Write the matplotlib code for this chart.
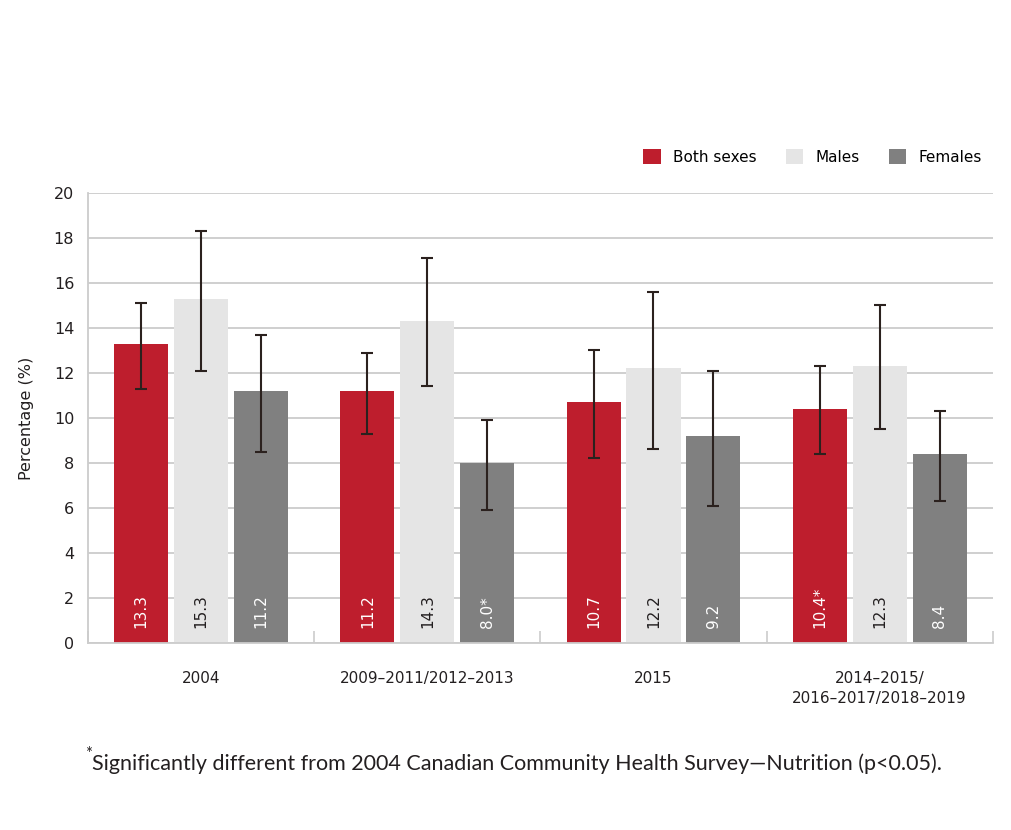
import matplotlib.pyplot as plt
import numpy as np

CATEGORIES = ["2004", "2009–2011/2012–2013", "2015",
              "2014–2015/\n2016–2017/2018–2019"]
SERIES = ["Both sexes", "Males", "Females"]

BOTH = [13.3, 11.2, 10.7, 10.4]
MALES = [15.3, 14.3, 12.2, 12.3]
FEMALES = [11.2, 8.0, 9.2, 8.4]

BOTH_LOW = [11.3, 9.3, 8.2, 8.4]
BOTH_HIGH = [15.1, 12.9, 13.0, 12.3]
MALES_LOW = [12.1, 11.4, 8.6, 9.5]
MALES_HIGH = [18.3, 17.1, 15.6, 15.0]
FEMALES_LOW = [8.5, 5.9, 6.1, 6.3]
FEMALES_HIGH = [13.7, 9.9, 12.1, 10.3]

BOTH_LABELS = ["13.3", "11.2", "10.7", "10.4*"]
MALES_LABELS = ["15.3", "14.3", "12.2", "12.3"]
FEMALES_LABELS = ["11.2", "8.0*", "9.2", "8.4"]

FOOTNOTE = ("Significantly different from 2004 Canadian Community Health "
            "Survey—Nutrition (p<0.05).")


def main():
    plt.rcParams["font.family"] = ["DejaVu Sans"]
    fig = plt.figure(figsize=(10.12, 8.3), dpi=100)
    ax = fig.add_axes([0.087, 0.2253, 0.894, 0.5422])

    colors = ["#BE1E2D", "#E5E5E5", "#808080"]
    text_colors = ["white", "#231F20", "white"]
    values = [BOTH, MALES, FEMALES]
    lows = [BOTH_LOW, MALES_LOW, FEMALES_LOW]
    highs = [BOTH_HIGH, MALES_HIGH, FEMALES_HIGH]
    labels = [BOTH_LABELS, MALES_LABELS, FEMALES_LABELS]

    x = np.arange(len(CATEGORIES))
    step = 0.265
    width = 0.239

    for i, name in enumerate(SERIES):
        pos = x + (i - 1) * step
        vals = np.array(values[i])
        err = [vals - np.array(lows[i]), np.array(highs[i]) - vals]
        ax.bar(pos, vals, width, color=colors[i], label=name, zorder=2)
        ax.errorbar(pos, vals, yerr=err, fmt="none", ecolor="#2B211E",
                    elinewidth=1.5, capsize=4, capthick=1.5, zorder=3)
        #   Rotated value label near the base of each bar.
        for p, lab in zip(pos, labels[i]):
            ax.text(p, 0.65, lab, rotation=90, ha="center", va="bottom",
                    color=text_colors[i], fontsize=11, zorder=4)

    ax.set_xlim(-0.5, 3.5)
    ax.set_ylim(0, 20)
    ax.set_yticks(np.arange(0, 21, 2))
    ax.yaxis.grid(True, color="#CCCCCC", linewidth=1.3, zorder=0)
    ax.set_axisbelow(True)

    ax.set_xticks(x)
    ax.set_xticklabels(CATEGORIES, fontsize=11, linespacing=1.4)
    ax.set_xticks(np.arange(-0.5, 4, 1), minor=True)
    ax.tick_params(axis="x", which="major", length=0, pad=20,
                   colors="#231F20")
    ax.tick_params(axis="x", which="minor", direction="in", length=9,
                   width=1.2, color="#CCCCCC")
    ax.tick_params(axis="y", length=0, pad=10, labelsize=11.5,
                   colors="#231F20")

    for side in ["top", "right"]:
        ax.spines[side].set_visible(False)
    for side in ["left", "bottom"]:
        ax.spines[side].set_color("#CCCCCC")
        ax.spines[side].set_linewidth(1.3)

    ax.set_ylabel("Percentage (%)", fontsize=11.5, labelpad=14,
                  color="#231F20")

    fig.legend(loc="center right", bbox_to_anchor=(0.984, 1 - 157 / 830),
               ncol=3, frameon=False, fontsize=11, handlelength=1.15,
               handleheight=1.15, handletextpad=0.8, columnspacing=1.9)

    fig.text(0.0845, 1 - 754 / 830, "*", fontsize=12, color="#231F20",
             va="center", family=["Liberation Sans Narrow", "Lato"])
    fig.text(0.091, 1 - 764 / 830, FOOTNOTE, fontsize=15.5,
             color="#231F20", va="center",
             family=["Liberation Sans Narrow", "Lato"])

    fig.savefig("out.png", dpi=100)


if __name__ == "__main__":
    main()
